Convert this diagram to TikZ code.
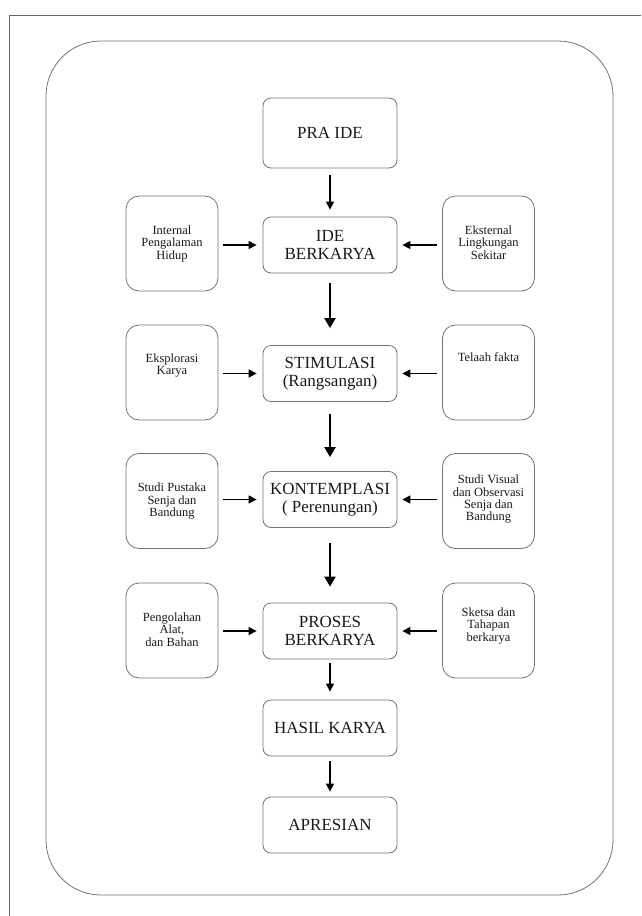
\documentclass[tikz,border=0pt]{standalone}
\usepackage{fontspec}
\setmainfont{Liberation Serif}
\usetikzlibrary{positioning,arrows.meta}
\begin{document}
\begin{tikzpicture}[x=1pt,y=-1pt,
  mainbox/.style={draw=black!55,line width=0.8pt,rounded corners=8pt,minimum width=134pt,minimum height=56pt,align=center,text=black!90,font=\fontsize{17}{18.3}\selectfont},
  sidebox/.style={draw=black!55,line width=0.8pt,rounded corners=13pt,minimum width=92pt,minimum height=95pt},
  sidetext/.style={align=center,inner sep=0pt,text=black!90,font=\fontsize{12.5}{12.3}\selectfont},
  bigarrow/.style={-{Triangle[width=11pt,length=10pt]},line width=2pt},
  arrow/.style={-{Triangle[width=8pt,length=8pt]},line width=1.4pt}]
\useasboundingbox (0,0) rectangle (641,916);
\draw[black!60,line width=1pt] (9,916) -- (9,15) -- (641,15);
\draw[black!55,line width=0.8pt,rounded corners=55pt] (46,41) rectangle (613,895);
\node[mainbox,minimum height=70pt] (praide) at (330,133) {PRA IDE};
\node[mainbox] (ide) at (330,245) {IDE\\BERKARYA};
\node[mainbox] (stim) at (330,373.5) {STIMULASI\\(Rangsangan)};
\node[mainbox] (kont) at (330,499.5) {KONTEMPLASI\\( Perenungan)};
\node[mainbox] (proses) at (330,631) {PROSES\\BERKARYA};
\node[mainbox] (hasil) at (330,728) {HASIL KARYA};
\node[mainbox] (apres) at (330,825) {APRESIAN};
\node[sidebox] (intl) at (172,243.5) {};
\node[sidebox] (ekst) at (488.5,243.5) {};
\node[sidebox] (eksp) at (172,372.5) {};
\node[sidebox] (telaah) at (488.5,372.5) {};
\node[sidebox] (pustaka) at (172,501) {};
\node[sidebox] (visual) at (488.5,501) {};
\node[sidebox] (olah) at (172,630.5) {};
\node[sidebox] (sketsa) at (488.5,630.5) {};
\node[sidetext,below=30pt of intl.north] (intltxt) {Internal\\Pengalaman\\Hidup};
\node[sidetext,below=30pt of ekst.north] (eksttxt) {Eksternal\\Lingkungan\\Sekitar};
\node[sidetext,below=29pt of eksp.north] (eksptxt) {Eksplorasi\\Karya};
\node[sidetext,below=28pt of telaah.north] (telaahtxt) {Telaah fakta};
\node[sidetext,below=30pt of pustaka.north] (pustakatxt) {Studi Pustaka\\Senja dan\\Bandung};
\node[sidetext,below=22pt of visual.north] (visualtxt) {Studi Visual\\dan Observasi\\Senja dan\\Bandung};
\node[sidetext,below=30pt of olah.north] (olahtxt) {Pengolahan\\Alat,\\dan Bahan};
\node[sidetext,below=25pt of sketsa.north] (sketsatxt) {Sketsa dan\\Tahapan\\berkarya};
\draw[arrow,shorten <=7pt,shorten >=7pt] (praide) -- (ide);
\draw[bigarrow,shorten <=10pt,shorten >=17pt] (ide) -- (stim);
\draw[bigarrow,shorten <=12pt,shorten >=14pt] (stim) -- (kont);
\draw[bigarrow,shorten <=15pt,shorten >=16pt] (kont) -- (proses);
\draw[arrow,shorten <=4pt,shorten >=8pt] (proses) -- (hasil);
\draw[arrow,shorten <=5pt,shorten >=5pt] (hasil) -- (apres);
\draw[arrow,shorten <=5pt,shorten >=6pt] (intl.east |- ide) -- (ide);
\draw[arrow,shorten <=5pt,shorten >=5pt] (ekst.west |- ide) -- (ide);
\draw[arrow,shorten <=5pt,shorten >=6pt] (eksp.east |- stim) -- (stim);
\draw[arrow,shorten <=5pt,shorten >=5pt] (telaah.west |- stim) -- (stim);
\draw[arrow,shorten <=5pt,shorten >=6pt] (pustaka.east |- kont) -- (kont);
\draw[arrow,shorten <=5pt,shorten >=5pt] (visual.west |- kont) -- (kont);
\draw[arrow,shorten <=5pt,shorten >=6pt] (olah.east |- proses) -- (proses);
\draw[arrow,shorten <=5pt,shorten >=5pt] (sketsa.west |- proses) -- (proses);
\end{tikzpicture}
\end{document}
